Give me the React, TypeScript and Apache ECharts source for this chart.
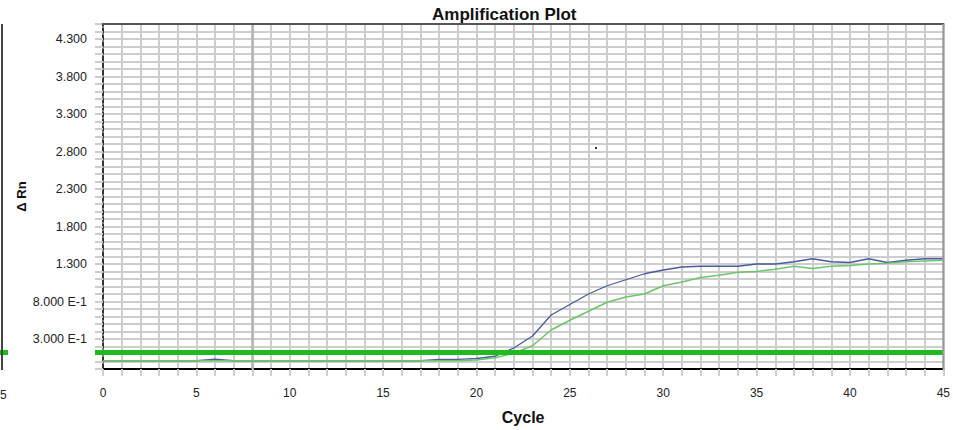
import React, { useEffect, useRef } from "react";
import * as echarts from "echarts";

// ---- data ----
const cycles = [0, 1, 2, 3, 4, 5, 6, 7, 8, 9, 10, 11, 12, 13, 14, 15, 16, 17, 18, 19, 20, 21, 22, 23, 24, 25, 26, 27, 28, 29, 30, 31, 32, 33, 34, 35, 36, 37, 38, 39, 40, 41, 42, 43, 44, 45];
const blueValues = [0.01, 0.01, 0.01, 0.01, 0.01, 0.01, 0.03, 0.01, 0.01, 0.01, 0.01, 0.01, 0.01, 0.01, 0.01, 0.01, 0.01, 0.01, 0.028, 0.028, 0.04, 0.07, 0.18, 0.34, 0.62, 0.76, 0.9, 1.01, 1.09, 1.17, 1.22, 1.26, 1.27, 1.27, 1.27, 1.3, 1.3, 1.33, 1.37, 1.33, 1.32, 1.37, 1.32, 1.35, 1.37, 1.37];
const greenValues = [0.01, 0.01, 0.01, 0.01, 0.01, 0.01, 0.01, 0.01, 0.01, 0.01, 0.01, 0.01, 0.01, 0.01, 0.01, 0.01, 0.01, 0.01, 0.01, 0.01, 0.02, 0.05, 0.11, 0.21, 0.42, 0.55, 0.67, 0.79, 0.86, 0.9, 1.01, 1.06, 1.12, 1.15, 1.19, 1.2, 1.23, 1.27, 1.24, 1.27, 1.28, 1.3, 1.31, 1.33, 1.34, 1.35];
const threshold = 0.12;
const baselineMarkerCycle = 8;
const yTickValues = [0.3, 0.8, 1.3, 1.8, 2.3, 2.8, 3.3, 3.8, 4.3];
const yTickLabels = ["3.000 E-1", "8.000 E-1", "1.300", "1.800", "2.300", "2.800", "3.300", "3.800", "4.300"];
const xTickValues = [0, 5, 10, 15, 20, 25, 30, 35, 40, 45];
const xTickLabels = ["0", "5", "10", "15", "20", "25", "30", "35", "40", "45"];

const FONT = "'Liberation Sans', Arial, sans-serif";
const GRID_GRAY = "#cdcdcd";

export default function App() {
  const ref = useRef<HTMLDivElement>(null);

  useEffect(() => {
    if (!ref.current) return;
    const chart = echarts.init(ref.current, null, { renderer: "svg" });
    const grid = { left: 103, right: 2, top: 24, bottom: 58 };

    chart.setOption({
      animation: false,
      backgroundColor: "#ffffff",
      title: {
        text: "Amplification Plot",
        left: 427,
        top: 1,
        textStyle: { fontFamily: FONT, fontWeight: "bold", fontSize: 17, color: "#111" },
      },
      grid: { ...grid, containLabel: false },
      xAxis: {
        type: "value",
        min: 0,
        max: 45,
        interval: 1,
        name: "Cycle",
        nameLocation: "middle",
        nameGap: 40,
        nameTextStyle: { fontFamily: FONT, fontWeight: "bold", fontSize: 16, color: "#111" },
        axisLine: { show: true, onZero: false, lineStyle: { color: "#000", width: 2 } },
        axisTick: { show: true, length: 7, lineStyle: { color: GRID_GRAY, width: 2 } },
        axisLabel: {
          fontFamily: FONT,
          fontSize: 12,
          color: "#222",
          margin: 18,
          formatter: (v: number) => {
            const i = xTickValues.findIndex((t) => Math.abs(t - v) < 1e-6);
            return i >= 0 ? xTickLabels[i] : "";
          },
        },
        splitLine: { show: true, lineStyle: { color: GRID_GRAY, width: 2 } },
      },
      yAxis: {
        type: "value",
        min: -0.1,
        max: 4.5,
        interval: 0.1,
        name: "Δ Rn",
        nameLocation: "middle",
        nameGap: 75,
        nameMoveOverlap: false,
        nameRotate: 90,
        nameTextStyle: { fontFamily: FONT, fontWeight: "bold", fontSize: 13, color: "#111" },
        axisLine: { show: true, onZero: false, lineStyle: { color: "#000", width: 1.5, type: [5, 2] } },
        axisTick: { show: true, length: 8, lineStyle: { color: GRID_GRAY, width: 2 } },
        axisLabel: {
          fontFamily: FONT,
          fontSize: 12.5,
          color: "#222",
          margin: 16,
          formatter: (v: number) => {
            const i = yTickValues.findIndex((t) => Math.abs(t - v) < 1e-6);
            return i >= 0 ? yTickLabels[i] : "";
          },
        },
        splitLine: { show: true, lineStyle: { color: GRID_GRAY, width: 2 } },
      },
      series: [
        {
          type: "line",
          name: "Sample B",
          data: cycles.map((c, i) => [c, blueValues[i]]),
          showSymbol: false,
          lineStyle: { color: "#4a5a9c", width: 1.3 },
          z: 3,
          markLine: {
            silent: true,
            symbol: ["none", "none"],
            label: { show: false },
            lineStyle: { color: "#b3b3b3", width: 2.5, type: "solid" },
            data: [{ xAxis: baselineMarkerCycle }],
            z: 1,
          },
        },
        {
          type: "line",
          name: "Sample A",
          data: cycles.map((c, i) => [c, greenValues[i]]),
          showSymbol: false,
          lineStyle: { color: "#6cc46c", width: 1.5 },
          z: 4,
          markLine: {
            silent: true,
            symbol: ["none", "none"],
            label: { show: false },
            lineStyle: { color: "#1dbb1d", width: 5, type: "solid" },
            data: [{ yAxis: threshold }],
          },
        },
      ],
    });

    const ty = chart.convertToPixel({ yAxisIndex: 0 }, threshold) as number;
    const x0 = chart.convertToPixel({ xAxisIndex: 0 }, 0) as number;
    const x45 = chart.convertToPixel({ xAxisIndex: 0 }, 45) as number;
    const yTop = chart.convertToPixel({ yAxisIndex: 0 }, 4.5) as number;
    const yBot = chart.convertToPixel({ yAxisIndex: 0 }, -0.1) as number;

    chart.setOption({
      graphic: [
        { type: "line", shape: { x1: x0 - 1, y1: yTop, x2: x45 + 1, y2: yTop }, style: { stroke: "#555", lineWidth: 2 }, z: 10 },
        { type: "line", shape: { x1: x45, y1: yTop, x2: x45, y2: yBot }, style: { stroke: "#999", lineWidth: 2 }, z: 10 },
        { type: "line", shape: { x1: x0 - 8, y1: ty, x2: x0, y2: ty }, style: { stroke: "#1dbb1d", lineWidth: 5 }, z: 10 },
        { type: "line", shape: { x1: 0, y1: ty, x2: 8, y2: ty }, style: { stroke: "#1dbb1d", lineWidth: 5 }, z: 10 },
        { type: "line", shape: { x1: 2, y1: yTop, x2: 2, y2: yBot + 1 }, style: { stroke: "#444", lineWidth: 2 }, z: 10 },
        { type: "text", x: 0, y: 395, style: { text: "5", fontFamily: FONT, fontSize: 12, fill: "#222", align: "left", verticalAlign: "middle" }, z: 10 },
        { type: "rect", shape: { x: 595, y: 147, width: 2, height: 2 }, style: { fill: "#333" }, z: 10 },
      ],
    });

    return () => chart.dispose();
  }, []);

  return (
    <div
      ref={ref}
      style={{ position: "absolute", left: 0, top: 0, width: 953, height: 430, background: "#fff" }}
    />
  );
}
